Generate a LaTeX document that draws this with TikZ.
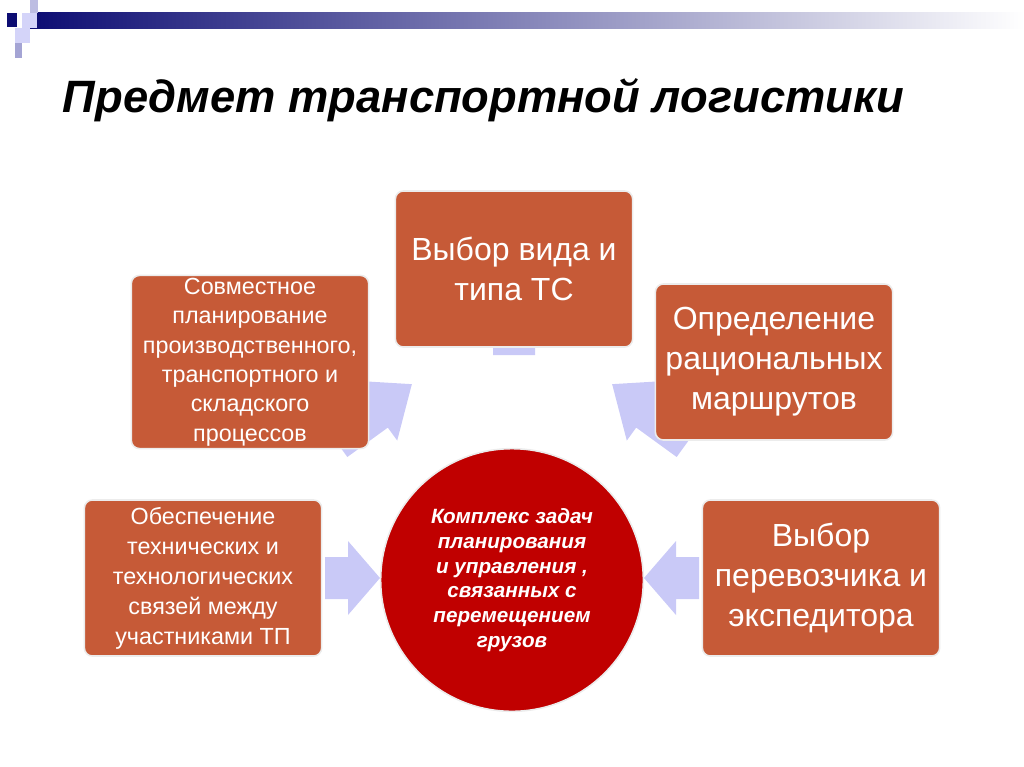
\documentclass[tikz,border=0pt]{standalone}
\usepackage{fontspec}
\setmainfont{Liberation Sans}
\usetikzlibrary{shadings}
\definecolor{boxc}{HTML}{C65A37}
\definecolor{circ}{HTML}{C00000}
\definecolor{arr}{HTML}{C9C9F7}
\definecolor{navy}{HTML}{0D0D73}
\tikzset{
  box/.style={draw=white!85!gray,line width=1.2pt,fill=boxc,rounded corners=6pt,text=white,align=center,inner sep=2pt,minimum width=178pt,minimum height=117pt},
}
% #1 tail coord, #2 angle, #3 length, #4 head length
\newcommand{\fatarr}[4]{%
  \fill[arr,shift={#1},rotate=#2] (0,-21) -- (#3-#4,-21) -- (#3-#4,-37) -- (#3,0) -- (#3-#4,37) -- (#3-#4,21) -- (0,21) -- cycle;}
\begin{document}
\begin{tikzpicture}[x=0.75pt,y=-0.75pt]
\useasboundingbox (0,0) rectangle (1024,767);
% header
\shade[left color=navy,right color=white] (30,13) rectangle (1024,29);
\fill[navy] (7,13) rectangle (17,27);
\fill[arr!80!white] (22,13) rectangle (37,28);
\fill[arr!70!navy!60!white] (30,0) rectangle (38,13);
\fill[arr!80!white] (15,28) rectangle (30,43);
\fill[arr!60!navy!70!white] (15,43) rectangle (22,58);
\node[anchor=west,font=\fontsize{34}{40}\selectfont\bfseries\itshape] (title) at (58,100) {Предмет транспортной логистики};
% arrows
\fatarr{(514,355)}{90}{90}{45}
\fatarr{(335,440)}{36}{95}{45}
\fatarr{(689,440)}{144}{95}{45}
\fatarr{(325,578)}{0}{55}{32}
\fatarr{(699,578)}{180}{55}{32}
% circle
\node[circle,fill=circ,draw=white!85!gray,line width=1.2pt,minimum size=197pt,text=white,align=center,font=\fontsize{15.5}{18.5}\selectfont\bfseries\itshape] (c) at (512,580) {Комплекс задач\\планирования\\и управления ,\\связанных с\\перемещением\\грузов};
% boxes
\node[box,font=\fontsize{24}{30}\selectfont] (t) at (514,269) {Выбор вида и\\типа ТС};
\node[box,font=\fontsize{17.5}{22}\selectfont] (lu) at (250,362) {Совместное\\планирование\\производственного,\\транспортного и\\складского\\процессов};
\node[box,font=\fontsize{24}{30}\selectfont] (ru) at (774,362) {Определение\\рациональных\\маршрутов};
\node[box,font=\fontsize{17.5}{22.5}\selectfont] (ll) at (203,578) {Обеспечение\\технических и\\технологических\\связей между\\участниками ТП};
\node[box,font=\fontsize{24}{30}\selectfont] (rl) at (821,578) {Выбор\\перевозчика и\\экспедитора};
\end{tikzpicture}
\end{document}
